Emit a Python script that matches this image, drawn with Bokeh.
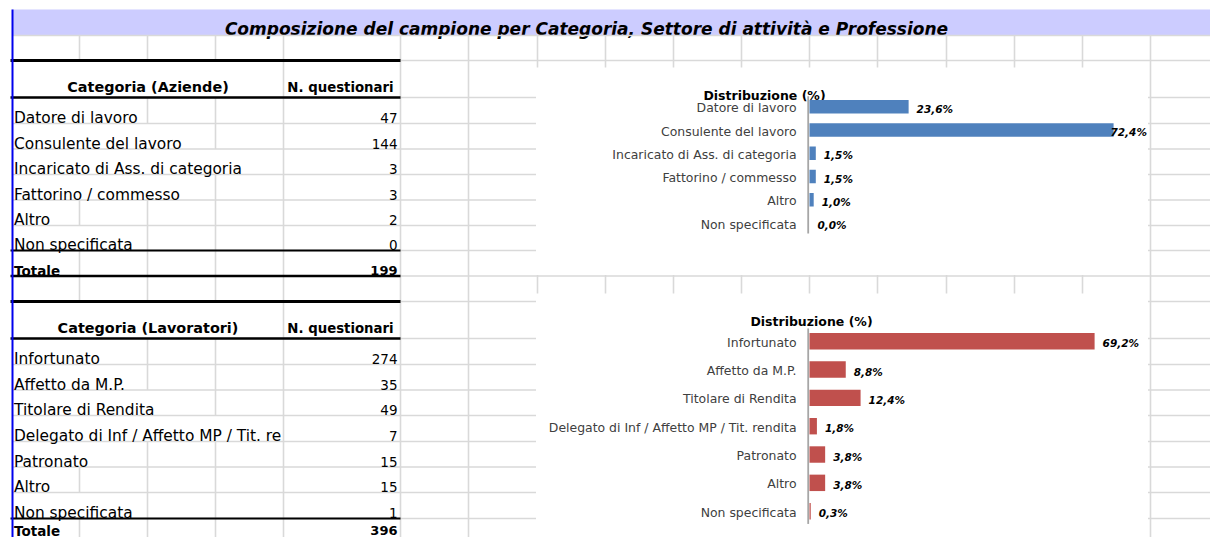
from bokeh.plotting import figure
from bokeh.models import Range1d
from bokeh.core.properties import value
from bokeh.embed import file_html
from bokeh.resources import INLINE

# ---------------- data ----------------
TITLE = "Composizione del campione per Categoria, Settore di attività e Professione"
CHART_TITLE = "Distribuzione (%)"
TOTAL_LABEL = "Totale"

aziende_header = ["Categoria (Aziende)", "N. questionari"]
aziende_cat = ["Datore di lavoro", "Consulente del lavoro", "Incaricato di Ass. di categoria",
               "Fattorino / commesso", "Altro", "Non specificata"]
aziende_n = [47, 144, 3, 3, 2, 0]

lav_header = ["Categoria (Lavoratori)", "N. questionari"]
lav_cat = ["Infortunato", "Affetto da M.P.", "Titolare di Rendita",
           "Delegato di Inf / Affetto MP / Tit. rendita", "Patronato", "Altro", "Non specificata"]
lav_n = [274, 35, 49, 7, 15, 15, 1]

# ---------------- layout (spreadsheet geometry, px) ----------------
FONT = value("DejaVu Sans")
W, H = 1210, 537
X0, Y0 = 0, 0
COLS = [12, 79, 147, 215, 283, 400, 468, 537, 605, 673, 741, 809, 877, 946, 1014, 1082, 1150]
ROWS = [35, 60, 97, 123, 148.5, 174, 199.5, 225, 250, 275.5, 301, 338, 364, 389.5, 415, 441,
        466.5, 492, 518, 544]
ROW_SPANS = [1, 4] + [2, 3, 4, 3, 1, 2] + [1, 1, 4] + [2, 2, 3, 4, 2, 1, 2] + [1]
GRID = "#d9d9d9"

p = figure(width=W, height=H, x_range=Range1d(X0, X0 + W), y_range=Range1d(Y0 + H, Y0),
           output_backend="svg", toolbar_location=None, x_axis_location=None,
           y_axis_location=None, min_border=0, outline_line_color=None,
           background_fill_color="white", border_fill_color="white")
p.grid.visible = False
p.title.visible = False

# title bar
p.quad(left=[12], right=[1215], top=[9], bottom=[35], fill_color="#ccccff", line_color=None)
p.text(x=[586], y=[28.5], text=[TITLE], text_font=FONT, text_font_size="17px",
       text_font_style="bold italic", text_align="center", text_baseline="alphabetic",
       text_color="black")

# horizontal gridlines
hy = ROWS[:-1]
p.segment(x0=[12] * len(hy), y0=hy, x1=[1215] * len(hy), y1=hy, line_color=GRID, line_width=1.6)

# vertical gridlines
vx, vy0, vy1 = [], [], []
for r, span in enumerate(ROW_SPANS):
    for c in range(span, 6):
        vx.append(COLS[c]); vy0.append(ROWS[r]); vy1.append(ROWS[r + 1])
for c in COLS[6:]:
    vx.append(c); vy0.append(ROWS[0]); vy1.append(ROWS[-1])
p.segment(x0=vx, y0=vy0, x1=vx, y1=vy1, line_color=GRID, line_width=1.6)

# chart boxes (white, hiding gridlines)
p.quad(left=[535.5, 535.5], right=[1147.5, 1147.5], top=[67, 293], bottom=[274.6, 550],
       fill_color="white", line_color=None)

# black table borders
for yb, lw in [(60, 3), (97, 2.5), (250, 2), (275.5, 2.5), (301, 3), (338, 2.5), (518, 2)]:
    p.segment(x0=[10], y0=[yb], x1=[400], y1=[yb], line_color="black", line_width=lw)

# blue column marker
p.segment(x0=[12], y0=[9], x1=[12], y1=[550], line_color="#0000ee", line_width=2)


# ---------------- tables ----------------
def table(header, cats, counts, r_head):
    hb = ROWS[r_head + 1] - 10.5
    p.text(x=[147.5], y=[hb], text=[header[0]], text_font=FONT, text_font_size="14.4px",
           text_font_style="bold", text_align="center", text_baseline="alphabetic")
    p.text(x=[340], y=[hb], text=[header[1]], text_font=FONT, text_font_size="13.3px",
           text_font_style="bold", text_align="center", text_baseline="alphabetic")
    ys = [ROWS[r_head + 2 + i] - 5.5 for i in range(len(cats))]
    shown = [c if len(c) <= 38 else c[:38] for c in cats]
    p.text(x=[13.5] * len(cats), y=ys, text=shown, text_font=FONT, text_font_size="15.4px",
           text_align="left", text_baseline="alphabetic", text_color="black")
    p.text(x=[397] * len(cats), y=ys, text=[str(v) for v in counts], text_font=FONT,
           text_font_size="13.5px", text_align="right", text_baseline="alphabetic")
    yt = min(ROWS[r_head + 2 + len(cats)] - 5.5, Y0 + H - 7)
    p.text(x=[13.5], y=[yt], text=[TOTAL_LABEL], text_font=FONT, text_font_size="13.5px",
           text_font_style="bold", text_align="left", text_baseline="alphabetic")
    p.text(x=[397], y=[yt], text=[str(sum(counts))], text_font=FONT, text_font_size="13px",
           text_font_style="bold", text_align="right", text_baseline="alphabetic")


table(aziende_header, aziende_cat, aziende_n, 1)
table(lav_header, lav_cat, lav_n, 10)

# ---------------- bar charts ----------------
CHARTS = {
    # tag: (x of value 0 px, px per %, first bar centre px, row step px, title x, title baseline)
    "c1": (809, 4.2, 106.3, 23.26, 764, 95),
    "c2": (809, 4.12, 340.7, 28.33, 811, 320.5),
}
PLOT_RIGHT_PX = 1146
LABEL_W_PX = 36
LABEL_GAP_PX = 8

ex, ey = {}, {}
for tag, (x0px, k, c0, step, _, _) in CHARTS.items():
    ex[tag + "x"] = Range1d((X0 - x0px) / k, (X0 + W - x0px) / k)
    ey[tag + "y"] = Range1d((Y0 + H - c0) / step, (Y0 - c0) / step)
p.extra_x_ranges = ex
p.extra_y_ranges = ey


def bar_chart(tag, cats, counts, color):
    x0px, k, c0, step, tx, tb = CHARTS[tag]
    n = len(cats)
    tot = sum(counts)
    pct = [round(100 * v / tot, 1) for v in counts]
    idx = list(range(n))
    xr, yr = tag + "x", tag + "y"
    p.text(x=[tx], y=[tb], text=[CHART_TITLE], text_font=FONT, text_font_size="12.5px",
           text_font_style="bold", text_align="center", text_baseline="alphabetic",
           text_color="black")
    ax = -1.3 / k
    p.segment(x0=[ax], y0=[-0.45], x1=[ax], y1=[n - 0.55], line_color="#a6a6a6",
              line_width=1.8, x_range_name=xr, y_range_name=yr)
    p.hbar(y=idx, left=0, right=pct, height=0.58, fill_color=color, line_color=None,
           x_range_name=xr, y_range_name=yr)
    p.text(x=[0] * n, y=idx, text=cats, text_font=FONT, text_font_size="12.45px",
           text_color="#404040", text_align="right", text_baseline="middle",
           x_offset=-13, y_offset=1, x_range_name=xr, y_range_name=yr)
    lim = (PLOT_RIGHT_PX - LABEL_W_PX - LABEL_GAP_PX - x0px) / k
    lx = [min(v, lim) for v in pct]
    labels = [f"{v:.1f}%".replace(".", ",") for v in pct]
    p.text(x=lx, y=idx, text=labels, text_font=FONT, text_font_size="10.5px",
           text_font_style="bold italic", text_color="black", text_align="left",
           text_baseline="middle", x_offset=LABEL_GAP_PX, y_offset=2,
           x_range_name=xr, y_range_name=yr)


bar_chart("c1", aziende_cat, aziende_n, "#4f81bd")
bar_chart("c2", lav_cat, lav_n, "#c0504d")

open("out.html", "w").write(file_html(p, INLINE))
